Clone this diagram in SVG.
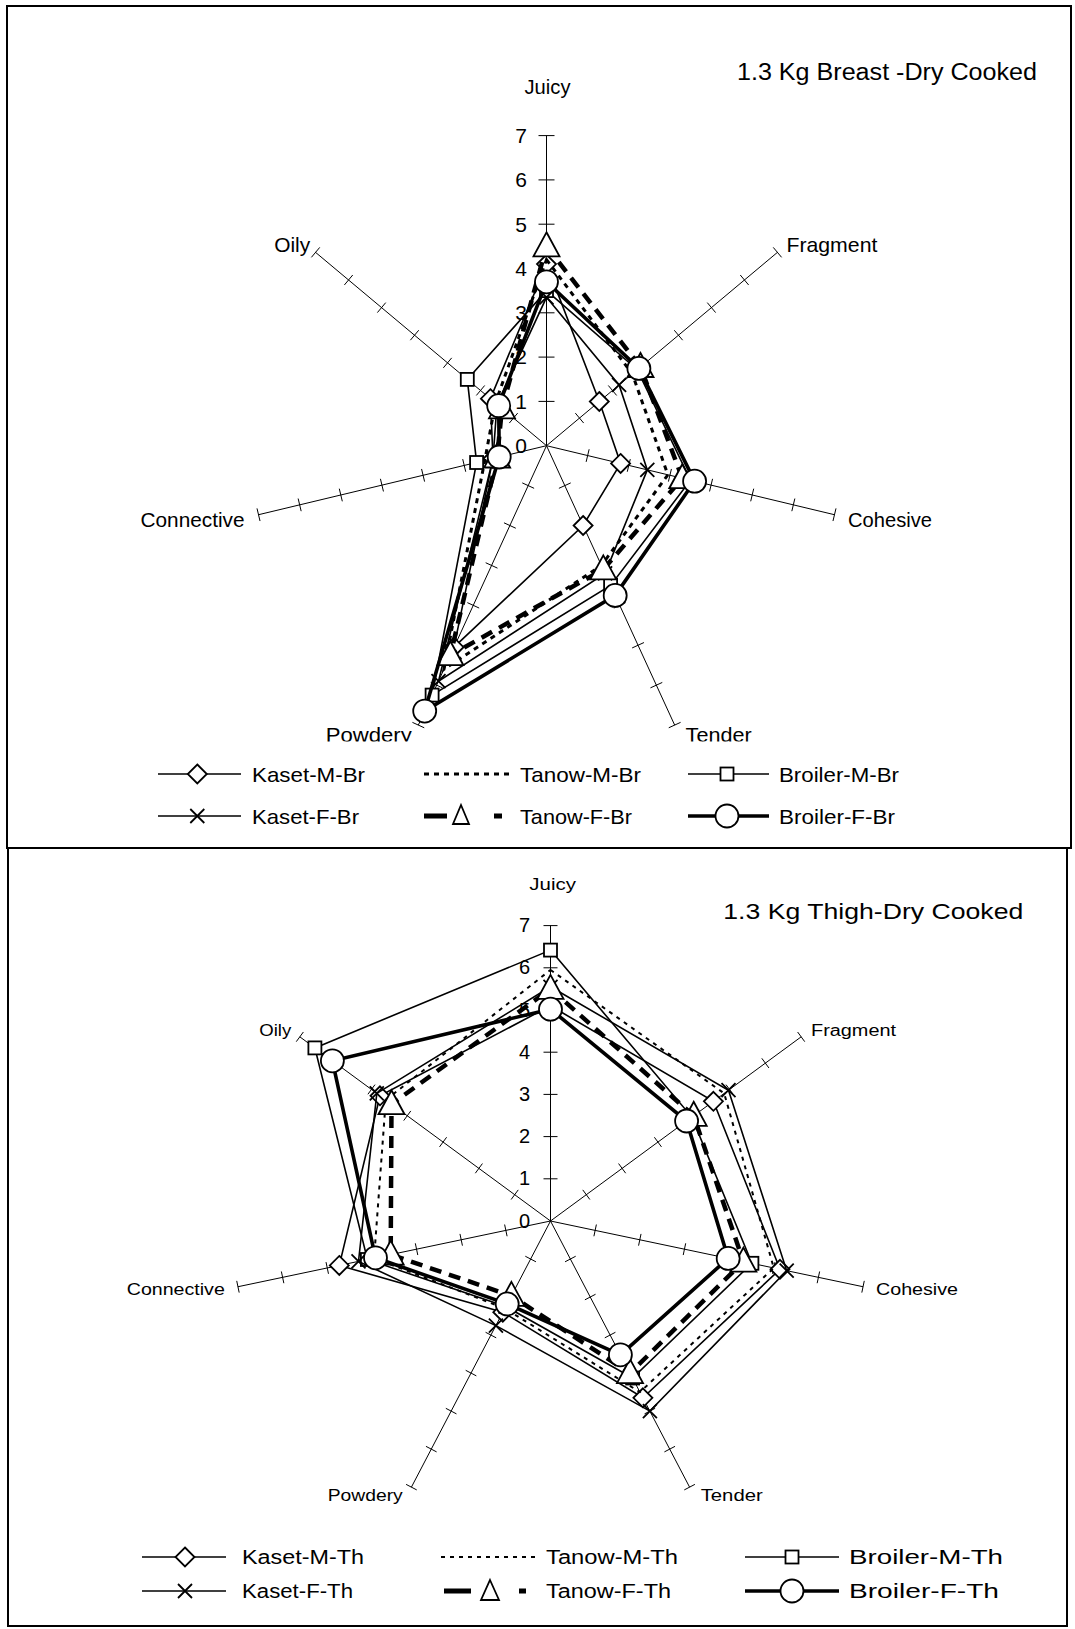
<svg xmlns="http://www.w3.org/2000/svg" width="1075" height="1629" viewBox="0 0 1075 1629">
<style>
text{font-family:"Liberation Sans",Arial,sans-serif;fill:#000}
.frame{fill:#fff;stroke:#000;stroke-width:2}
.ax{fill:none;stroke:#000;stroke-width:1}
.s{fill:none;stroke:#000;stroke-width:1.6;stroke-linejoin:miter}
.dot{stroke-width:3;stroke-dasharray:5 5}
.dot2{stroke-width:2;stroke-dasharray:4 5}
.dash{stroke-width:4.5;stroke-dasharray:12 8}
.thick{stroke-width:3.6}
.bar{fill:none;stroke:#000;stroke-width:5}
.mk{fill:#fff;stroke:#000;stroke-width:1.8}
.mx{fill:none;stroke:#000;stroke-width:1.8}
.t20{font-size:21px}
.t16{font-size:16px}
.t19{font-size:20px}
</style>
<defs>
<marker id="mD" markerUnits="userSpaceOnUse" markerWidth="32" markerHeight="32" viewBox="-16 -16 32 32" refX="0" refY="0" orient="0"><path class="mk" d="M0 -9.5L9.5 0L0 9.5L-9.5 0Z"/></marker>
<marker id="mX" markerUnits="userSpaceOnUse" markerWidth="32" markerHeight="32" viewBox="-16 -16 32 32" refX="0" refY="0" orient="0"><path class="mx" d="M-7 -7L7 7M-7 7L7 -7"/></marker>
<marker id="mS" markerUnits="userSpaceOnUse" markerWidth="32" markerHeight="32" viewBox="-16 -16 32 32" refX="0" refY="0" orient="0"><rect class="mk" x="-6.5" y="-6.5" width="13" height="13"/></marker>
<marker id="mT" markerUnits="userSpaceOnUse" markerWidth="32" markerHeight="32" viewBox="-16 -16 32 32" refX="0" refY="0" orient="0"><path class="mk" d="M0 -14L13 10L-13 10Z"/></marker>
<marker id="mC" markerUnits="userSpaceOnUse" markerWidth="32" markerHeight="32" viewBox="-16 -16 32 32" refX="0" refY="0" orient="0"><circle class="mk" r="11.5"/></marker>
<clipPath id="clipTop"><rect x="0" y="0" width="1075" height="741.5"/></clipPath>
</defs>

<g id="frames">
<rect class="frame" x="7" y="6" width="1064" height="842"/>
<rect class="frame" x="8" y="848" width="1059" height="778"/>
</g>

<!-- ===== TOP CHART ===== -->
<g id="top-axes" class="ax">
<path d="M546.5 445.7V135.6M538.5 401.4h16M538.5 357.1h16M538.5 312.8h16M538.5 268.5h16M538.5 224.2h16M538.5 179.9h16M538.5 135.6h16"/>
<path d="M546.5 445.7l230.93 -193.34M546.5 445.7m28.82 -32.6l8.34 9.96m24.65 -37.58l8.34 9.96m24.65 -37.58l8.34 9.96m24.65 -37.58l8.34 9.96m24.65 -37.58l8.34 9.96m24.65 -37.58l8.34 9.96m24.65 -37.58l8.34 9.96"/>
<path d="M546.5 445.7l287.98 69.01M546.5 445.7m42.65 3.54l-3.02 12.64m44.16 -2.78l-3.02 12.64m44.16 -2.78l-3.02 12.64m44.16 -2.78l-3.02 12.64m44.16 -2.78l-3.02 12.64m44.16 -2.78l-3.02 12.64m44.16 -2.78l-3.02 12.64"/>
<path d="M546.5 445.7l128.17 279.37M546.5 445.7m24.22 37.2l-11.82 5.42m30.13 34.49l-11.82 5.42m30.13 34.49l-11.82 5.42m30.13 34.49l-11.82 5.42m30.13 34.49l-11.82 5.42m30.13 34.49l-11.82 5.42m30.13 34.49l-11.82 5.42"/>
<path d="M546.5 445.7l-128.17 279.37M546.5 445.7m-12.4 42.62l-11.82 -5.42m-6.49 45.33l-11.82 -5.42m-6.49 45.33l-11.82 -5.42m-6.49 45.33l-11.82 -5.42m-6.49 45.33l-11.82 -5.42m-6.49 45.33l-11.82 -5.42m-6.49 45.33l-11.82 -5.42"/>
<path d="M546.5 445.7l-287.98 69.01M546.5 445.7m-39.63 16.18l-3.02 -12.64m-38.12 22.5l-3.02 -12.64m-38.12 22.5l-3.02 -12.64m-38.12 22.5l-3.02 -12.64m-38.12 22.5l-3.02 -12.64m-38.12 22.5l-3.02 -12.64m-38.12 22.5l-3.02 -12.64"/>
<path d="M546.5 445.7l-230.93 -193.34M546.5 445.7m-37.16 -22.64l8.34 -9.96m-41.33 -17.66l8.34 -9.96m-41.33 -17.66l8.34 -9.96m-41.33 -17.66l8.34 -9.96m-41.33 -17.66l8.34 -9.96m-41.33 -17.66l8.34 -9.96m-41.33 -17.66l8.34 -9.96"/>
</g>
<g id="top-scale" class="t20" text-anchor="end">
<text x="527" y="453">0</text><text x="527" y="408.7">1</text><text x="527" y="364.4">2</text><text x="527" y="320.1">3</text><text x="527" y="275.8">4</text><text x="527" y="231.5">5</text><text x="527" y="187.2">6</text><text x="527" y="142.9">7</text>
</g>
<g id="top-labels" class="t20">
<text x="737" y="80" font-size="23" textLength="300" lengthAdjust="spacingAndGlyphs">1.3 Kg Breast -Dry Cooked</text>
<text x="524.5" y="94" textLength="46" lengthAdjust="spacingAndGlyphs">Juicy</text>
<text x="786.4" y="252" textLength="91" lengthAdjust="spacingAndGlyphs">Fragment</text>
<text x="848" y="527" textLength="84" lengthAdjust="spacingAndGlyphs">Cohesive</text>
<text x="140.5" y="527" textLength="104" lengthAdjust="spacingAndGlyphs">Connective</text>
<text x="274.2" y="252" textLength="36" lengthAdjust="spacingAndGlyphs">Oily</text>
<g clip-path="url(#clipTop)">
<text x="685.6" y="742" textLength="66" lengthAdjust="spacingAndGlyphs">Tender</text>
<text x="325.7" y="742" textLength="86" lengthAdjust="spacingAndGlyphs">Powdery</text>
</g>
</g>
<g id="top-series">
<path id="Kaset-M-Br" class="s" marker-start="url(#mD)" marker-mid="url(#mD)" d="M546.5 264.1L599.3 401.5L620.6 463.4L583.1 525.5L454.0 647.2L493.0 458.5L490.4 398.7Z"/>
<path id="Tanow-M-Br" class="s dot" d="M546.5 259.6L632.3 373.9L667.9 474.8L601.4 565.4L444.0 669.2L484.8 460.5L495.4 402.9Z"/>
<path id="Broiler-M-Br" class="s" marker-start="url(#mS)" marker-mid="url(#mS)" d="M546.5 290.6L637.2 369.7L690.5 480.2L610.6 585.4L432.1 695.1L476.6 462.5L467.3 379.4Z"/>
<path id="Kaset-F-Br" class="s" marker-start="url(#mX)" marker-mid="url(#mX)" d="M546.5 297.3L619.1 384.9L647.3 469.9L605.1 573.4L438.5 681.2L493.0 458.5L497.0 404.3Z"/>
<path id="Tanow-F-Br" class="s dash" marker-start="url(#mT)" marker-mid="url(#mT)" d="M546.5 246.3L640.5 367.0L682.3 478.2L603.3 569.4L450.4 655.2L497.1 457.5L502.0 408.4Z"/>
<path id="Broiler-F-Br" class="s thick" marker-start="url(#mC)" marker-mid="url(#mC)" d="M546.5 281.8L638.9 368.4L694.6 481.2L615.2 595.4L424.7 711.1L499.2 457.0L498.7 405.7Z"/>
</g>
<g id="top-legend" class="t20">
<path class="s" marker-mid="url(#mD)" d="M158 774L197.3 774L241 774"/>
<text x="252" y="781.5" textLength="113" lengthAdjust="spacingAndGlyphs">Kaset-M-Br</text>
<path class="s dot" d="M424 774H509"/>
<text x="520" y="781.5" textLength="121" lengthAdjust="spacingAndGlyphs">Tanow-M-Br</text>
<path class="s" marker-mid="url(#mS)" d="M688 774L727 774L769 774"/>
<text x="779" y="781.5" textLength="120" lengthAdjust="spacingAndGlyphs">Broiler-M-Br</text>
<path class="s" marker-mid="url(#mX)" d="M158 816L197.3 816L241 816"/>
<text x="252" y="823.5" textLength="107" lengthAdjust="spacingAndGlyphs">Kaset-F-Br</text>
<path class="bar" d="M424 816H447M494 816H502"/>
<path class="mk" d="M461 805L469 824L453 824Z"/>
<text x="520" y="823.5" textLength="112" lengthAdjust="spacingAndGlyphs">Tanow-F-Br</text>
<path class="s thick" marker-mid="url(#mC)" d="M688 816L727 816L769 816"/>
<text x="779" y="823.5" textLength="116" lengthAdjust="spacingAndGlyphs">Broiler-F-Br</text>
</g>

<!-- ===== BOTTOM CHART ===== -->
<g id="bottom-axes" class="ax">
<path d="M550.5 1221V925.6M543.5 1178.8h14M543.5 1136.6h14M543.5 1094.4h14M543.5 1052.2h14M543.5 1010h14M543.5 967.8h14M543.5 925.6h14"/>
<path d="M550.5 1221l250.67 -184.17M550.5 1221m32.26 -31.14l7.1 9.66m28.71 -35.97l7.1 9.66m28.71 -35.97l7.1 9.66m28.71 -35.97l7.1 9.66m28.71 -35.97l7.1 9.66m28.71 -35.97l7.1 9.66m28.71 -35.97l7.1 9.66"/>
<path d="M550.5 1221l312.55 65.73M550.5 1221m45.88 3.52l-2.46 11.74m47.11 -2.35l-2.46 11.74m47.11 -2.35l-2.46 11.74m47.11 -2.35l-2.46 11.74m47.11 -2.35l-2.46 11.74m47.11 -2.35l-2.46 11.74m47.11 -2.35l-2.46 11.74"/>
<path d="M550.5 1221l139.09 266.14M550.5 1221m25.19 35.24l-10.64 5.56m30.51 32.46l-10.64 5.56m30.51 32.46l-10.64 5.56m30.51 32.46l-10.64 5.56m30.51 32.46l-10.64 5.56m30.51 32.46l-10.64 5.56m30.51 32.46l-10.64 5.56"/>
<path d="M550.5 1221l-139.09 266.14M550.5 1221m-14.55 40.8l-10.64 -5.56m-9.23 43.58l-10.64 -5.56m-9.23 43.58l-10.64 -5.56m-9.23 43.58l-10.64 -5.56m-9.23 43.58l-10.64 -5.56m-9.23 43.58l-10.64 -5.56m-9.23 43.58l-10.64 -5.56"/>
<path d="M550.5 1221l-312.55 65.73M550.5 1221m-43.42 15.26l-2.46 -11.74m-42.19 21.13l-2.46 -11.74m-42.19 21.13l-2.46 -11.74m-42.19 21.13l-2.46 -11.74m-42.19 21.13l-2.46 -11.74m-42.19 21.13l-2.46 -11.74m-42.19 21.13l-2.46 -11.74"/>
<path d="M550.5 1221l-250.67 -184.17M550.5 1221m-39.36 -21.48l7.1 -9.66m-42.91 -16.65l7.1 -9.66m-42.91 -16.65l7.1 -9.66m-42.91 -16.65l7.1 -9.66m-42.91 -16.65l7.1 -9.66m-42.91 -16.65l7.1 -9.66m-42.91 -16.65l7.1 -9.66"/>
</g>
<g id="bottom-scale" class="t19" text-anchor="end">
<text x="530" y="1227.5">0</text><text x="530" y="1185.3">1</text><text x="530" y="1143.1">2</text><text x="530" y="1100.9">3</text><text x="530" y="1058.7">4</text><text x="530" y="1016.5">5</text><text x="530" y="974.3">6</text><text x="530" y="932.1">7</text>
</g>
<g id="bottom-labels" class="t16">
<text x="723.3" y="919" font-size="22" textLength="300" lengthAdjust="spacingAndGlyphs">1.3 Kg Thigh-Dry Cooked</text>
<text x="529.3" y="890" textLength="46.6" lengthAdjust="spacingAndGlyphs">Juicy</text>
<text x="811" y="1036" textLength="85" lengthAdjust="spacingAndGlyphs">Fragment</text>
<text x="876" y="1295" textLength="82" lengthAdjust="spacingAndGlyphs">Cohesive</text>
<text x="700.7" y="1501" textLength="62" lengthAdjust="spacingAndGlyphs">Tender</text>
<text x="327.7" y="1501" textLength="75" lengthAdjust="spacingAndGlyphs">Powdery</text>
<text x="126.8" y="1295" textLength="98" lengthAdjust="spacingAndGlyphs">Connective</text>
<text x="259.2" y="1036" textLength="32" lengthAdjust="spacingAndGlyphs">Oily</text>
</g>
<g id="bottom-series">
<path id="Kaset-M-Th" class="s" marker-start="url(#mD)" marker-mid="url(#mD)" d="M550.5 1005.8L713.4 1101.3L780.0 1269.3L642.9 1397.8L502.8 1312.2L339.3 1265.4L380.0 1095.8Z"/>
<path id="Tanow-M-Th" class="s dot2" d="M550.5 969.9L724.2 1093.4L773.8 1268.0L639.9 1392.1L504.8 1308.4L374.1 1258.1L385.8 1100.0Z"/>
<path id="Broiler-M-Th" class="s" marker-start="url(#mS)" marker-mid="url(#mS)" d="M550.5 950.1L691.9 1117.1L751.9 1263.3L632.6 1378.0L505.8 1306.5L367.4 1259.5L314.9 1047.9Z"/>
<path id="Kaset-F-Th" class="s" marker-start="url(#mX)" marker-mid="url(#mX)" d="M550.5 986.8L728.5 1090.2L786.7 1270.7L649.9 1411.1L495.9 1325.6L358.5 1261.4L376.8 1093.4Z"/>
<path id="Tanow-F-Th" class="s dash" marker-start="url(#mT)" marker-mid="url(#mT)" d="M550.5 988.9L693.7 1115.8L743.4 1261.6L630.0 1373.1L511.4 1295.9L390.7 1254.6L391.5 1104.2Z"/>
<path id="Broiler-F-Th" class="s thick" marker-start="url(#mC)" marker-mid="url(#mC)" d="M550.5 1009.2L686.6 1121.0L728.2 1258.4L620.4 1354.8L507.2 1303.9L375.5 1257.8L332.4 1060.8Z"/>
</g>
<g id="bottom-legend" class="t19">
<path class="s" marker-mid="url(#mD)" d="M142 1557L185 1557L226 1557"/>
<text x="242" y="1564" textLength="122" lengthAdjust="spacingAndGlyphs">Kaset-M-Th</text>
<path class="s dot2" d="M441 1557H535"/>
<text x="546" y="1564" textLength="132" lengthAdjust="spacingAndGlyphs">Tanow-M-Th</text>
<path class="s" marker-mid="url(#mS)" d="M745 1557L792 1557L839 1557"/>
<text x="849" y="1564" textLength="154" lengthAdjust="spacingAndGlyphs">Broiler-M-Th</text>
<path class="s" marker-mid="url(#mX)" d="M142 1591L185 1591L226 1591"/>
<text x="242" y="1598" textLength="111" lengthAdjust="spacingAndGlyphs">Kaset-F-Th</text>
<path class="bar" d="M444 1591H471M519 1591H526"/>
<path class="mk" d="M490 1580L499 1600L481 1600Z"/>
<text x="546" y="1598" textLength="125" lengthAdjust="spacingAndGlyphs">Tanow-F-Th</text>
<path class="s thick" marker-mid="url(#mC)" d="M745 1591L792 1591L839 1591"/>
<text x="849" y="1598" textLength="150" lengthAdjust="spacingAndGlyphs">Broiler-F-Th</text>
</g>
</svg>
